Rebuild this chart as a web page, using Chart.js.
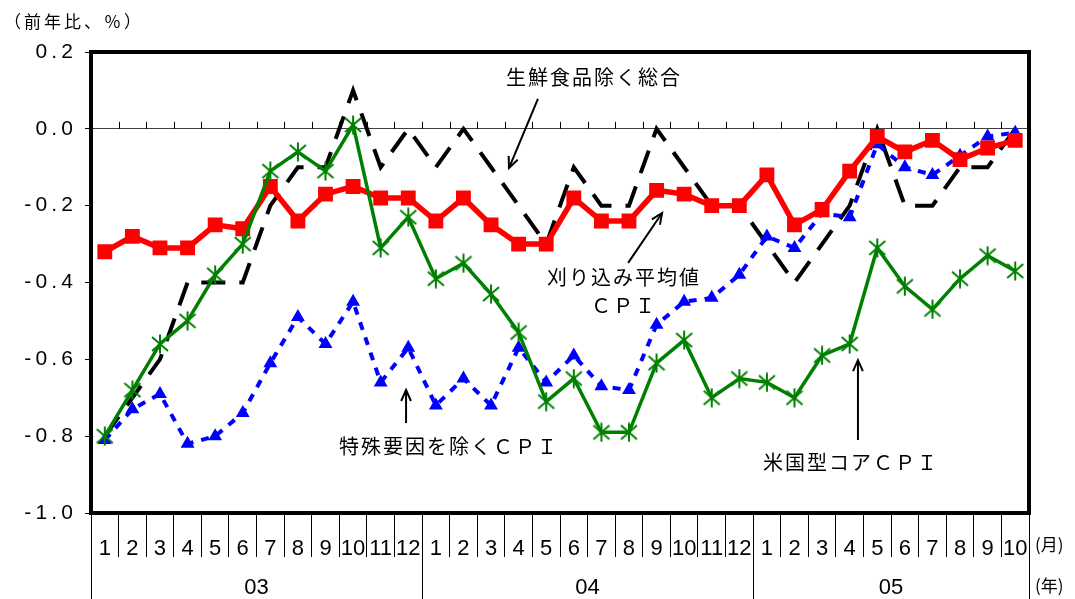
<!DOCTYPE html>
<html>
<head>
<meta charset="utf-8">
<script src="https://cdn.jsdelivr.net/npm/chart.js@4/dist/chart.umd.min.js"></script>
<style>
  html, body { margin: 0; padding: 0; background: #fff; }
</style>
</head>
<body>
<canvas id="grafik" width="1075" height="599"></canvas>
<script>
// months 2003/1 .. 2005/10
const months = [
  "1", "2", "3", "4", "5", "6", "7", "8", "9", "10", "11", "12",
  "1", "2", "3", "4", "5", "6", "7", "8", "9", "10", "11", "12",
  "1", "2", "3", "4", "5", "6", "7", "8", "9", "10",
];
const years = ["03", "04", "05"];
const yearFirst = [0, 12, 24];
const yearLast = [11, 23, 33];

// 生鮮食品除く総合
const coreExFresh = [
  -0.8, -0.7, -0.6, -0.4, -0.4, -0.4, -0.2, -0.1, -0.1, 0.1, -0.1, 0.0,
  -0.1, 0.0, -0.1, -0.2, -0.3, -0.1, -0.2, -0.2, 0.0, -0.1, -0.2, -0.2,
  -0.3, -0.4, -0.3, -0.2, 0.0, -0.2, -0.2, -0.1, -0.1, 0.0,
];
// 刈り込み平均値CPI
const trimmedMean = [
  -0.32, -0.28, -0.31, -0.31, -0.25, -0.26, -0.15, -0.24, -0.17, -0.15, -0.18, -0.18,
  -0.24, -0.18, -0.25, -0.30, -0.30, -0.18, -0.24, -0.24, -0.16, -0.17, -0.20, -0.20,
  -0.12, -0.25, -0.21, -0.11, -0.02, -0.06, -0.03, -0.08, -0.05, -0.03,
];
// 特殊要因を除くCPI
const exSpecial = [
  -0.81, -0.73, -0.69, -0.82, -0.80, -0.74, -0.61, -0.49, -0.56, -0.45, -0.66, -0.57,
  -0.72, -0.65, -0.72, -0.57, -0.66, -0.59, -0.67, -0.68, -0.51, -0.45, -0.44, -0.38,
  -0.28, -0.31, -0.22, -0.23, -0.04, -0.10, -0.12, -0.07, -0.02, -0.01,
];
// 米国型コアCPI
const usCore = [
  -0.80, -0.68, -0.56, -0.50, -0.38, -0.30, -0.11, -0.06, -0.11, 0.01, -0.31, -0.23,
  -0.39, -0.35, -0.43, -0.53, -0.71, -0.65, -0.79, -0.79, -0.61, -0.55, -0.70, -0.65,
  -0.66, -0.70, -0.59, -0.56, -0.31, -0.41, -0.47, -0.39, -0.33, -0.37,
];

const yMin = -1.0;
const yMax = 0.2;
const yStep = 0.2;

const numFont = '"Liberation Sans", Arial, sans-serif';
const jpFont = '"Noto Sans CJK JP", "Noto Sans", sans-serif';

// asterisk marker (X plus vertical bar)
const star = document.createElement("canvas");
star.width = 20;
star.height = 20;
(function () {
  const c = star.getContext("2d");
  c.strokeStyle = "#008000";
  c.lineWidth = 2;
  c.beginPath();
  c.moveTo(2, 3); c.lineTo(18, 17);
  c.moveTo(18, 3); c.lineTo(2, 17);
  c.moveTo(10, 0.5); c.lineTo(10, 19.5);
  c.stroke();
})();

function arrow(ctx, x1, y1, x2, y2) {
  ctx.beginPath();
  ctx.moveTo(x1, y1);
  ctx.lineTo(x2, y2);
  ctx.stroke();
  const ang = Math.atan2(y2 - y1, x2 - x1);
  const len = 12;
  const spread = 0.42;
  ctx.beginPath();
  ctx.moveTo(x2 - len * Math.cos(ang - spread), y2 - len * Math.sin(ang - spread));
  ctx.lineTo(x2, y2);
  ctx.lineTo(x2 - len * Math.cos(ang + spread), y2 - len * Math.sin(ang + spread));
  ctx.stroke();
}

const decor = {
  id: "decor",
  afterDraw(chart) {
    const { ctx, chartArea: a, scales: { x, y } } = chart;
    const P = (i, v) => [x.getPixelForValue(i), y.getPixelForValue(v)];
    ctx.save();

    // plot frame
    ctx.strokeStyle = "#000";
    ctx.lineWidth = 4;
    ctx.strokeRect(a.left, a.top, a.right - a.left, a.bottom - a.top);

    // small ticks on the zero line
    const y0 = y.getPixelForValue(0);
    ctx.lineWidth = 1;
    ctx.beginPath();
    for (let i = 0; i < months.length - 1; i++) {
      const xx = Math.round(x.getPixelForValue(i + 0.5)) + 0.5;
      ctx.moveTo(xx, y0);
      ctx.lineTo(xx, y0 - 7);
    }
    ctx.stroke();

    // year separators and labels
    ctx.beginPath();
    const bounds = [yearFirst[0] - 0.5].concat(yearLast.map((v) => v + 0.5));
    bounds.forEach((b) => {
      const xx = Math.round(x.getPixelForValue(b)) + 0.5;
      ctx.moveTo(xx, a.bottom);
      ctx.lineTo(xx, chart.height);
    });
    ctx.stroke();

    ctx.fillStyle = "#000";
    ctx.font = "22px " + numFont;
    ctx.textAlign = "center";
    ctx.textBaseline = "middle";
    years.forEach((yr, k) => {
      const mid = (yearFirst[k] + yearLast[k]) / 2;
      ctx.fillText(yr, x.getPixelForValue(mid), 588);
    });

    ctx.font = "17px " + jpFont;
    ctx.textAlign = "left";
    ctx.fillText("(月)", a.right + 6, 545);
    ctx.fillText("(年)", a.right + 6, 586);

    // unit title
    ctx.letterSpacing = "3px";
    ctx.fillText("（前年比、％）", 4, 22);

    // series notes
    ctx.font = "20px " + jpFont;
    ctx.letterSpacing = "2px";
    ctx.textAlign = "center";
    let p = P(17.73, 0.135);
    ctx.fillText("生鮮食品除く総合", p[0], p[1]);
    p = P(18.82, -0.386);
    ctx.fillText("刈り込み平均値", p[0], p[1]);
    p = P(18.82, -0.459);
    ctx.fillText("ＣＰＩ", p[0], p[1]);
    p = P(12.48, -0.826);
    ctx.fillText("特殊要因を除くＣＰＩ", p[0], p[1]);
    p = P(27.05, -0.868);
    ctx.fillText("米国型コアＣＰＩ", p[0], p[1]);

    ctx.letterSpacing = "0px";
    ctx.lineWidth = 2;
    ctx.strokeStyle = "#000";
    let t = P(15.70, 0.078), h = P(14.65, -0.102);
    arrow(ctx, t[0], t[1], h[0], h[1]);
    t = P(18.97, -0.349); h = P(20.20, -0.219);
    arrow(ctx, t[0], t[1], h[0], h[1]);
    t = P(10.92, -0.766); h = P(10.92, -0.680);
    arrow(ctx, t[0], t[1], h[0], h[1]);
    t = P(27.30, -0.81); h = P(27.30, -0.602);
    arrow(ctx, t[0], t[1], h[0], h[1]);

    ctx.restore();
  },
};

const grafik = document.getElementById("grafik");
let cpi = new Chart(grafik, {
  type: "line",
  data: {
    labels: months,
    datasets: [
      {
        label: "米国型コアCPI",
        data: usCore,
        borderColor: "#008000",
        borderWidth: 3.5,
        pointStyle: star,
        pointRadius: 10,
        pointHoverRadius: 10,
      },
      {
        label: "刈り込み平均値CPI",
        data: trimmedMean,
        borderColor: "#ff0000",
        backgroundColor: "#ff0000",
        borderWidth: 5.5,
        pointStyle: "rect",
        pointRadius: 10.5,
        pointBorderWidth: 0,
        pointBackgroundColor: "#ff0000",
      },
      {
        label: "特殊要因を除くCPI",
        data: exSpecial,
        borderColor: "#0000ff",
        backgroundColor: "#0000ff",
        borderWidth: 4,
        borderDash: [8, 8],
        pointStyle: "triangle",
        pointRadius: 8,
        pointBorderWidth: 0,
        pointBackgroundColor: "#0000ff",
      },
      {
        label: "生鮮食品除く総合",
        data: coreExFresh,
        borderColor: "#000",
        borderWidth: 4,
        borderDash: [24, 14],
        pointRadius: 0,
      },
    ],
  },
  options: {
    responsive: false,
    animation: false,
    devicePixelRatio: 1,
    layout: { padding: { top: 52, right: 46, left: 0, bottom: 0 } },
    plugins: {
      legend: { display: false },
      tooltip: { enabled: false },
    },
    elements: { line: { tension: 0 } },
    scales: {
      x: {
        type: "category",
        offset: true,
        border: { display: false },
        grid: {
          offset: true,
          drawOnChartArea: false,
          tickLength: 44,
          color: "#000",
          lineWidth: 1,
        },
        ticks: {
          autoSkip: false,
          maxRotation: 0,
          padding: -21,
          color: "#000",
          font: { family: numFont, size: 22 },
        },
        afterFit: (scale) => {
          scale.height = 86;
        },
      },
      y: {
        min: yMin,
        max: yMax,
        border: { display: false },
        grid: {
          color: (c) => (Math.abs(c.tick.value) < 1e-9 ? "#404040" : "transparent"),
          tickColor: "#000",
          tickLength: 6,
          lineWidth: 1,
        },
        ticks: {
          stepSize: yStep,
          padding: 12,
          color: "#000",
          font: { family: numFont, size: 21 },
          callback: (value) => {
            const s = (Math.abs(value) < 1e-9 ? 0 : value).toFixed(1);
            return s.split("").join("\u2009");
          },
        },
        afterFit: (scale) => {
          scale.width = 91;
        },
      },
    },
  },
  plugins: [decor],
});
</script>
</body>
</html>
